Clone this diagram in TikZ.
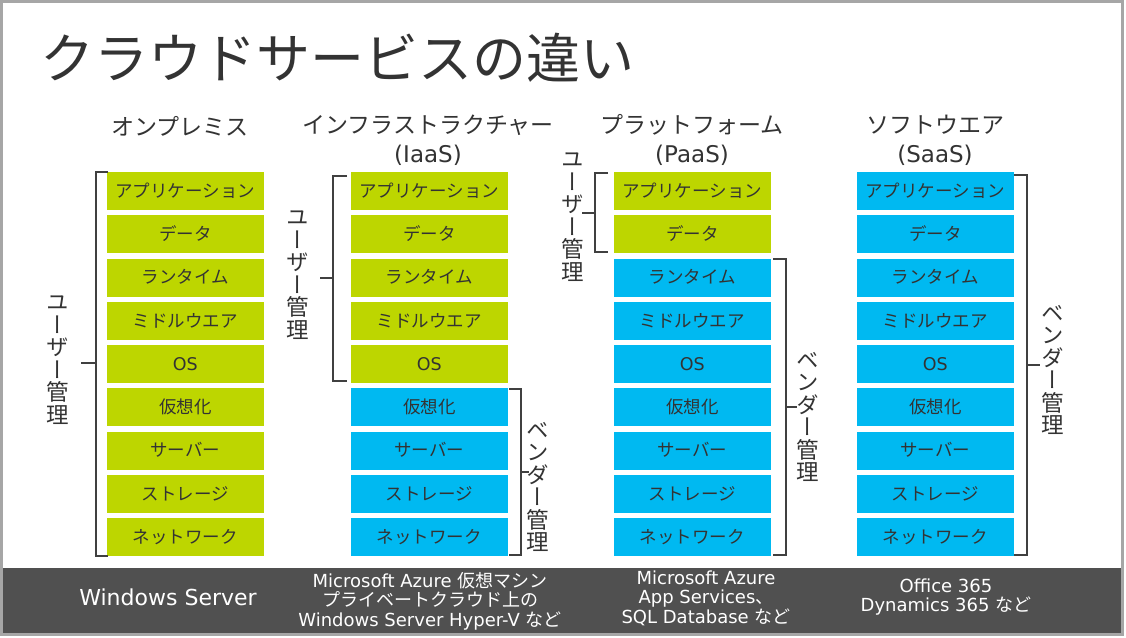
\documentclass[tikz,border=0pt]{standalone}
\usepackage{fontspec}
\setmainfont{Noto Sans CJK JP}
\newfontfamily\jpv{Noto Sans CJK JP}[RawFeature=+vert]
\newfontfamily\latf{DejaVu Sans}
\newcommand{\en}[1]{{\latf #1}}
\definecolor{vgreen}{HTML}{BDD600}
\definecolor{vblue}{HTML}{00B9F1}
\definecolor{txt}{HTML}{333333}
\definecolor{brc}{HTML}{404040}
\definecolor{bandc}{HTML}{505050}
\definecolor{framec}{HTML}{A6A6A6}
\tikzset{
  cell/.style={minimum width=156.5pt, minimum height=38pt, inner sep=0pt, text=txt,
    font=\fontsize{17.5}{21}\selectfont, text height=15.2pt, text depth=2.3pt},
  br/.style={draw=brc, line width=2pt},
  hdr/.style={inner sep=0pt, text=txt, font=\fontsize{23}{29}\selectfont, align=center},
  vlab/.style={inner sep=0pt, text=txt, font=\jpv\fontsize{22.5}{22.5}\selectfont, align=center},
  btxt/.style={inner sep=0pt, text=white, font=\latf\fontsize{18}{19.6}\selectfont, align=center}
}
\begin{document}
\begin{tikzpicture}[x=1pt, y=-1pt]
\useasboundingbox (0,0) rectangle (1126,637);
\fill[white] (0,0) rectangle (1126,637);
% bottom band and frame
\fill[bandc] (2.5,568) rectangle (1121.5,633.5);
\draw[framec, line width=2.6pt] (1.3,1.3) rectangle (1122.7,634.7);
% title
\node[anchor=west, inner sep=0pt, text=txt, font=\fontsize{54}{60}\selectfont,
  text height=47.5pt, text depth=6.5pt] (title) at (40,58) {クラウドサービスの違い};
% headers
\node[hdr] (h1) at (180,126) {オンプレミス};
\node[hdr] (h2) at (428,140) {インフラストラクチャー\\\en{(IaaS)}};
\node[hdr] (h3) at (692,140) {プラットフォーム\\\en{(PaaS)}};
\node[hdr] (h4) at (935,140) {ソフトウエア\\\en{(SaaS)}};
% cells
\foreach \lab [count=\r] in {アプリケーション,データ,ランタイム,ミドルウエア,{\en{OS}},仮想化,サーバー,ストレージ,ネットワーク} {
  \foreach \c/\x/\g in {1/107/9, 2/351/5, 3/614/2, 4/857/0} {
    \pgfmathsetmacro\yy{172+43.25*(\r-1)+19}
    \ifnum\r>\g \def\fc{vblue}\else\def\fc{vgreen}\fi
    \node[cell, fill=\fc] (c\c-\r) at (\x+78.25, \yy) {\lab};
  }
}
% vertical labels
\node[vlab] (u1) at (58,360) {ユ\\ー\\ザ\\ー\\管\\理};
\node[vlab] (u2) at (298,275) {ユ\\ー\\ザ\\ー\\管\\理};
\node[vlab] (u3) at (573,217) {ユ\\ー\\ザ\\ー\\管\\理};
\node[vlab] (v2) at (538,487) {ベ\\ン\\ダ\\ー\\管\\理};
\node[vlab] (v3) at (808,417) {ベ\\ン\\ダ\\ー\\管\\理};
\node[vlab] (v4) at (1053,370) {ベ\\ン\\ダ\\ー\\管\\理};
% brackets
\draw[br] (108,172) -- (95.5,172) -- (95.5,556) -- (108,556);
\draw[br] (95.5,363) -- (81,363);
\draw[br] (347,176) -- (333,176) -- (333,381) -- (347,381);
\draw[br] (333,278) -- (320,278);
\draw[br] (509,389) -- (521,389) -- (521,555) -- (509,555);
\draw[br] (521,472) -- (529,472);
\draw[br] (608,173) -- (595,173) -- (595,252) -- (608,252);
\draw[br] (595,213) -- (582,213);
\draw[br] (773,259) -- (786,259) -- (786,555) -- (773,555);
\draw[br] (786,407) -- (797,407);
\draw[br] (1014,175) -- (1027,175) -- (1027,555) -- (1014,555);
\draw[br] (1027,365) -- (1040,365);
% bottom texts
\node[btxt, font=\latf\fontsize{22}{24}\selectfont] (b1) at (168,597) {Windows Server};
\node[btxt] (b2) at (430,601) {Microsoft Azure {\rmfamily 仮想マシン}\\{\rmfamily プライベートクラウド上の}\\Windows Server Hyper-V {\rmfamily など}};
\node[btxt] (b3) at (706,598) {Microsoft Azure\\App Services{\rmfamily 、}\\SQL Database {\rmfamily など}};
\node[btxt] (b4) at (946,597) {Office 365\\Dynamics 365 {\rmfamily など}};
\end{tikzpicture}
\end{document}
